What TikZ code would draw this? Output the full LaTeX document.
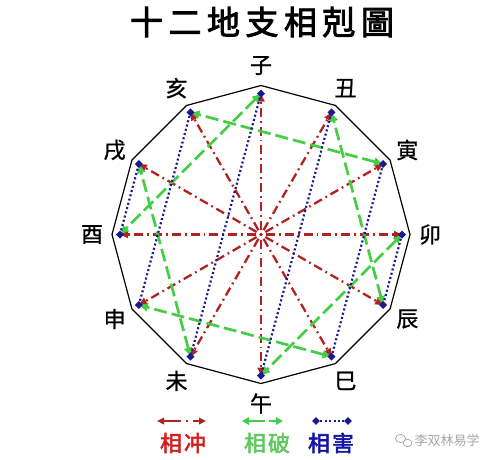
\documentclass[tikz,border=0pt]{standalone}
\usepackage{fontspec}
\newfontfamily\cjk{Noto Sans CJK SC}
\newfontfamily\cjkm[FakeBold=1]{Noto Sans CJK SC}
\newfontfamily\cjkb[FakeBold=2.5]{Noto Sans CJK SC}
\usetikzlibrary{arrows.meta}
\definecolor{chong}{RGB}{175,35,35}
\definecolor{po}{RGB}{70,205,70}
\definecolor{hai}{RGB}{25,25,145}
\definecolor{chongtxt}{RGB}{210,30,30}
\definecolor{potxt}{RGB}{95,200,95}
\definecolor{haitxt}{RGB}{20,20,165}
\definecolor{wm}{RGB}{165,165,165}
\tikzset{
  lab/.style={font=\cjkm\fontsize{22}{22}\selectfont, inner sep=0pt},
  rim/.style={draw=black, line width=1.2pt, line join=miter},
  chongline/.style={draw=chong, line width=2.3pt,
    dash pattern=on 9pt off 4pt on 1.8pt off 4pt, dash phase=13.8pt,
    -{Triangle[length=8pt,width=7pt]}},
  poline/.style={draw=po, line width=2.7pt, dash pattern=on 13pt off 5pt,
    {Triangle[length=8pt,width=8pt]}-{Triangle[length=8pt,width=8pt]}},
  hailine/.style={draw=hai, line width=2.2pt, dash pattern=on 2pt off 2.4pt},
}
\begin{document}
\begin{tikzpicture}[x=1pt,y=-1pt]
\useasboundingbox (0,0) rectangle (494,459);
\coordinate (c) at (261,234.5);
\foreach \i/\n in {0/子,1/丑,2/寅,3/卯,4/辰,5/巳,6/午,7/未,8/申,9/酉,10/戌,11/亥}{
  \coordinate (v\i) at ({261+149*sin(30*\i)},{234.5-149*cos(30*\i)});
  \coordinate (p\i) at ({261+141*sin(30*\i)},{234.5-141*cos(30*\i)});
  \node[lab] (L\i) at ({261+169*sin(30*\i)},{234.5-169*cos(30*\i)}) {\n};
}
% title
\node[font=\cjkb\fontsize{33}{33}\selectfont, inner sep=0pt] (title) at (262,22)
  {十\kern5.5pt 二\kern5.5pt 地\kern5.5pt 支\kern5.5pt 相\kern5.5pt 剋\kern5.5pt 圖};
% rim
\draw[rim] (v0) -- (v1) -- (v2) -- (v3) -- (v4) -- (v5) -- (v6) -- (v7) -- (v8) -- (v9) -- (v10) -- (v11) -- cycle;
% chong (opposition) lines
\fill[chong] (c) circle (1.6pt);
\foreach \i in {0,...,11}{ \draw[chongline] (c) -- (p\i); }
% po lines
\foreach \a/\b in {0/9,3/6,4/1,7/10,2/11,5/8}{ \draw[poline, shorten <=1pt, shorten >=1pt] (p\a) -- (p\b); }
% hai lines
\foreach \a/\b in {0/7,1/6,2/5,3/4,8/11,9/10}{ \draw[hailine] (p\a) -- (p\b); }
\foreach \i in {0,...,11}{ \fill[hai] (p\i) ++(-4,0) -- ++(4,-4) -- ++(4,4) -- ++(-4,4) -- cycle; }
% legend
\coordinate (r1) at (157,421); \coordinate (r2) at (206,421);
\draw[draw=chong, line width=2pt, dash pattern=on 17pt off 5pt on 2pt off 5pt,
  {Triangle[length=7pt,width=6.5pt]}-{Triangle[length=7pt,width=6.5pt]}] (r1) -- (r2);
\coordinate (g1) at (242,421); \coordinate (g2) at (283,421);
\draw[draw=po, line width=2.4pt, dash pattern=on 16pt off 4pt,
  {Triangle[length=7pt,width=7.5pt]}-{Triangle[length=7pt,width=7.5pt]}] (g1) -- (g2);
\coordinate (b1) at (316,421); \coordinate (b2) at (348,421);
\draw[hailine, line width=2pt] (b1) -- (b2);
\foreach \p in {b1,b2}{ \fill[hai] (\p) ++(-3.8,0) -- ++(3.8,-3.8) -- ++(3.8,3.8) -- ++(-3.8,3.8) -- cycle; }
\node[font=\cjkb\fontsize{22}{22}\selectfont, text=chongtxt, inner sep=0pt] (t1) at (183,443) {相\kern2pt 冲};
\node[font=\cjkb\fontsize{22}{22}\selectfont, text=potxt, inner sep=0pt] (t2) at (267,443) {相\kern2pt 破};
\node[font=\cjkb\fontsize{22}{22}\selectfont, text=haitxt, inner sep=0pt] (t3) at (331,443) {相\kern2pt 害};
% watermark
\draw[wm, line width=0.7pt] (400.5,438.5) ellipse (5pt and 4.2pt);
\draw[wm, line width=0.7pt, fill=white] (407.5,443) ellipse (4.4pt and 3.7pt);
\node[font=\cjk\fontsize{13}{13}\selectfont, text=wm, inner sep=0pt] (wmtext) at (447,441) {李双林易学};
\end{tikzpicture}
\end{document}
